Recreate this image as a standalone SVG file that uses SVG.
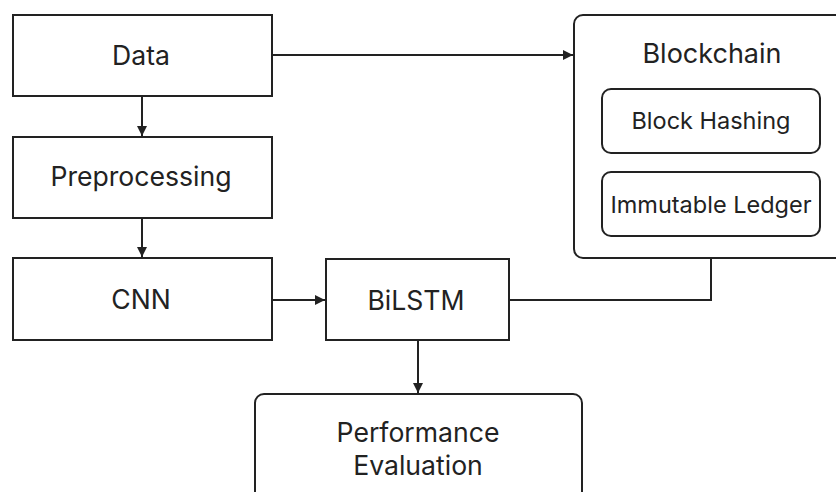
<svg xmlns="http://www.w3.org/2000/svg" width="836" height="492" viewBox="0 0 836 492">
<style>
.box{fill:#fff;stroke:#222;stroke-width:2}
.t{font-family:Inter,"Liberation Sans",sans-serif;fill:#222;text-anchor:middle;font-size:26.6px}
.s{font-size:23.5px}
.c{fill:none;stroke:#222;stroke-width:2}
</style>
<defs>
<marker id="ah" viewBox="0 0 10 10" refX="10" refY="5" markerWidth="10" markerHeight="10" markerUnits="userSpaceOnUse" orient="auto">
<path d="M0,0 L10,5 L0,10 z" fill="#222"/>
</marker>
</defs>
<rect width="836" height="492" fill="#fff"/>
<g id="connectors">
<line class="c" x1="142" y1="96" x2="142" y2="136" marker-end="url(#ah)"/>
<line class="c" x1="142" y1="218" x2="142" y2="257" marker-end="url(#ah)"/>
<line class="c" x1="272" y1="55" x2="573" y2="55" marker-end="url(#ah)"/>
<line class="c" x1="272" y1="300" x2="325" y2="300" marker-end="url(#ah)"/>
<polyline class="c" points="509,300 711,300 711,258"/>
<line class="c" x1="418" y1="340" x2="418" y2="393" marker-end="url(#ah)"/>
</g>
<g id="data">
<rect class="box" x="13" y="15" width="259" height="81"/>
<text class="t" x="141" y="65">Data</text>
</g>
<g id="preprocessing">
<rect class="box" x="13" y="137" width="259" height="81"/>
<text class="t" x="141" y="186">Preprocessing</text>
</g>
<g id="cnn">
<rect class="box" x="13" y="258" width="259" height="82"/>
<text class="t" x="141" y="309">CNN</text>
</g>
<g id="bilstm">
<rect class="box" x="326" y="259" width="183" height="81"/>
<text class="t" x="416" y="310">BiLSTM</text>
</g>
<g id="blockchain">
<rect class="box" x="574" y="15" width="280" height="243" rx="9"/>
<text class="t" x="712" y="63" style="font-size:27px">Blockchain</text>
</g>
<g id="block-hashing">
<rect class="box" x="602" y="89" width="218" height="64" rx="9"/>
<text class="t s" x="711" y="129">Block Hashing</text>
</g>
<g id="immutable-ledger">
<rect class="box" x="602" y="172" width="218" height="64" rx="9"/>
<text class="t s" x="711" y="213">Immutable Ledger</text>
</g>
<g id="performance-evaluation">
<rect class="box" x="255" y="394" width="327" height="120" rx="9"/>
<text class="t" x="418" y="442">Performance</text>
<text class="t" x="418" y="475">Evaluation</text>
</g>
</svg>
